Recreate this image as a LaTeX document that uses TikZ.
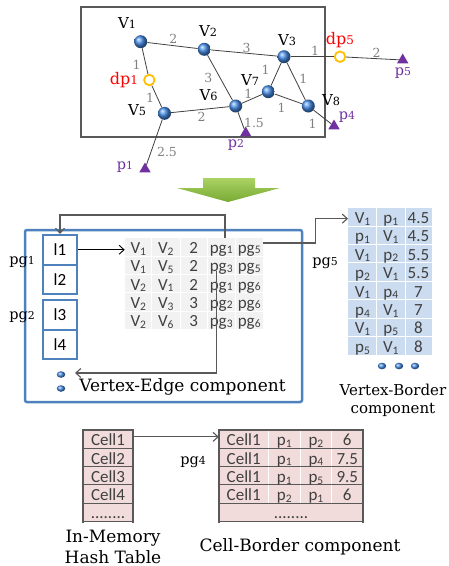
\documentclass[tikz,border=0pt]{standalone}
\usepackage{fontspec}
\newfontfamily\carlito{Carlito}
\newfontfamily\dser{DejaVu Serif}
\usetikzlibrary{arrows.meta,shapes.geometric}
\definecolor{nodeblue}{RGB}{70,140,230}
\definecolor{boxblue}{RGB}{79,129,189}
\definecolor{dporange}{RGB}{255,192,0}
\definecolor{ppurple}{RGB}{112,48,160}
\definecolor{egray}{RGB}{128,128,128}
\definecolor{vegray}{RGB}{242,242,242}
\definecolor{vbblue}{RGB}{203,219,240}
\definecolor{cbpink}{RGB}{242,220,219}
\definecolor{linegray}{RGB}{89,89,89}
\definecolor{txt}{RGB}{64,64,64}
\definecolor{arrgreenA}{RGB}{170,210,100}
\definecolor{arrgreenB}{RGB}{120,170,50}
\newcommand\osn[1]{\scalebox{0.75}{#1}}
\newcommand\sub[1]{\raisebox{-1.8pt}{\fontsize{11.5}{11.5}\selectfont #1}}
\newcommand\gsub[1]{\raisebox{-0.3pt}{\fontsize{11.5}{11.5}\selectfont #1}}
\tikzset{
 vball/.style={circle,minimum size=13pt,inner sep=0pt,shading=ball,ball color=nodeblue},
 dpc/.style={circle,draw=dporange,line width=1.8pt,fill=white,minimum size=10.5pt,inner sep=0pt},
 ptri/.style={regular polygon,regular polygon sides=3,fill=ppurple,minimum size=13pt,inner sep=0pt},
 vlab/.style={font=\dser\fontsize{15}{15}\selectfont,inner sep=0pt},
 dplab/.style={font=\dser\fontsize{16}{16}\selectfont,inner sep=0pt,text=red},
 plab/.style={font=\dser\fontsize{14.5}{14.5}\selectfont,inner sep=0pt,text=ppurple},
 elab/.style={font=\dser\fontsize{12.5}{12.5}\selectfont,inner sep=0pt,text=egray},
 gedge/.style={draw=black!75,line width=0.8pt},
 conn/.style={draw=linegray,line width=1.1pt},
 openarrow/.style={-{Straight Barb[length=5pt,width=9pt]}},
 tcell/.style={font=\carlito\fontsize{17}{17}\selectfont,text=txt,inner sep=0pt,anchor=base},
 lbox/.style={draw=boxblue,line width=2pt,minimum width=34pt,minimum height=29.5pt,inner sep=0pt,font=\carlito\fontsize{17}{17}\selectfont},
 serlab/.style={font=\dser\fontsize{17}{17}\selectfont,inner sep=0pt},
 serlabs/.style={font=\dser\fontsize{15}{15}\selectfont,inner sep=0pt},
 pglab/.style={font=\dser\fontsize{14.5}{14.5}\selectfont,inner sep=0pt},
 bdot/.style={ellipse,minimum width=8.5pt,minimum height=6.5pt,inner sep=0pt,shading=ball,ball color=nodeblue},
}
\begin{document}
\begin{tikzpicture}[x=1pt,y=-1pt]
\useasboundingbox (0,0) rectangle (449,566);
% ---------- graph ----------
\draw[draw=linegray,line width=1.2pt] (81,7) rectangle (325,137);
\node[vball] (V1) at (140.7,41.7) {};
\node[vball] (V2) at (204.3,49.3) {};
\node[vball] (V3) at (284,56.7) {};
\node[vball] (V5) at (164.5,113.3) {};
\node[vball] (V6) at (235.7,106) {};
\node[vball] (V7) at (268.3,91.7) {};
\node[vball] (V8) at (308.3,106) {};
\node[dpc] (dp1) at (149.3,80) {};
\node[dpc] (dp5) at (340,56.7) {};
\node[ptri] (p1) at (145,169) {};
\node[ptri] (p2) at (245.7,133) {};
\node[ptri] (p4) at (334,126) {};
\node[ptri] (p5) at (402.7,60) {};
\draw[gedge] (V1) -- (V2);
\draw[gedge] (V2) -- (V3);
\draw[gedge] (V3) -- (dp5);
\draw[gedge] (dp5) -- (p5);
\draw[gedge] (V1) -- (dp1);
\draw[gedge] (dp1) -- (V5);
\draw[gedge] (V2) -- (V6);
\draw[gedge] (V5) -- (V6);
\draw[gedge] (V6) -- (V7);
\draw[gedge] (V7) -- (V3);
\draw[gedge] (V3) -- (V8);
\draw[gedge] (V7) -- (V8);
\draw[gedge] (V6) -- (p2);
\draw[gedge] (V8) -- (p4);
\draw[gedge] (V5) -- (p1);
\node[vlab] (lV1) at (127,23) {V\osn{1}};
\node[vlab] (lV2) at (208,31) {V\osn{2}};
\node[vlab] (lV3) at (287,40) {V\osn{3}};
\node[vlab] (lV5) at (137,110) {V\osn{5}};
\node[vlab] (lV6) at (208.5,95) {V\osn{6}};
\node[vlab] (lV7) at (250,80) {V\osn{7}};
\node[vlab] (lV8) at (331,100) {V\osn{8}};
\node[dplab] (ldp1) at (124,80) {dp\osn{1}};
\node[dplab] (ldp5) at (340,40) {dp\osn{5}};
\node[plab] (lp1) at (125,167) {p\osn{1}};
\node[plab] (lp2) at (236,145) {p\osn{2}};
\node[plab] (lp4) at (347,117) {p\osn{4}};
\node[plab] (lp5) at (403,73) {p\osn{5}};
\node[elab] (e1) at (173.3,39.3) {2};
\node[elab] (e2) at (246.7,48.3) {3};
\node[elab] (e3) at (315,51) {1};
\node[elab] (e4) at (376.7,52.7) {2};
\node[elab] (e5) at (136.7,65) {1};
\node[elab] (e6) at (150,97.7) {1};
\node[elab] (e7) at (208.3,78.3) {3};
\node[elab] (e8) at (201.7,116.7) {2};
\node[elab] (e9) at (248.3,94) {1};
\node[elab] (e10) at (265.7,70) {1};
\node[elab] (e11) at (303.3,79) {1};
\node[elab] (e12) at (281.7,107.7) {1};
\node[elab] (e13) at (254,123.3) {1.5};
\node[elab] (e14) at (312.7,124) {1};
\node[elab] (e15) at (167,151.7) {2.5};
% ---------- green arrow ----------
\shade[top color=arrgreenA,bottom color=arrgreenB] (203,178) -- (255,178) -- (255,188) -- (280,188) -- (228,202) -- (177,188) -- (203,188) -- cycle;
% ---------- Vertex-Edge component ----------
\draw[boxblue,line width=2.5pt,rounded corners=2pt] (25,230) rectangle (302,402);
\node[lbox] (l1) at (60,249.75) {l1};
\node[lbox] (l2) at (60,279.25) {l2};
\node[lbox] (l3) at (60,314.75) {l3};
\node[lbox] (l4) at (60,344.25) {l4};
\node[pglab] (pg1) at (22,262) {pg\osn{1}};
\node[pglab] (pg2) at (22,317) {pg\osn{2}};
\fill[vegray] (125,237.7) rectangle (263.3,329.4);
\foreach \x in {151.7,180,207.3,235} \draw[white,line width=1pt] (\x,237.7) -- (\x,329.4);
\foreach \y in {256,274.4,292.7,311.1} \draw[white,line width=1pt] (125,\y) -- (263.3,\y);
\foreach \r/\y/\a/\b/\c/\d/\e in {1/246.8/1/2/2/1/5, 2/265.2/1/5/2/3/5, 3/283.5/2/1/2/1/6, 4/301.9/2/3/3/2/6, 5/320.2/2/6/3/3/6}{
  \node[tcell,minimum width=26.7pt] (ve\r1) at (138.3,\y+6.5) {V\sub{\a}};
  \node[tcell] (ve\r2) at (165.8,\y+6.5) {V\sub{\b}};
  \node[tcell] (ve\r3) at (193.7,\y+6.5) {\c};
  \node[tcell] (ve\r4) at (221.2,\y+6.5) {pg\gsub{\d}};
  \node[tcell,minimum width=28.3pt] (ve\r5) at (249.2,\y+6.5) {pg\gsub{\e}};
}
\node[bdot] (d1) at (61,374.5) {};
\node[bdot] (d2) at (61,388.5) {};
\node[serlab] (vetitle) at (182.5,387) {Vertex-Edge component};
% connectors of Vertex-Edge component
\draw[draw=black,line width=0.9pt,openarrow] (l1.east) -- (l1.east -| ve11.west);
\coordinate (c1) at (225,237.7);
\draw[conn,openarrow] (c1) -- ++(0,-22.7) -| (l1.north);
\coordinate (c3) at (216.7,271);
\coordinate (c4) at (75,373);
\draw[conn,openarrow] (c3) |- (c4);
% ---------- Vertex-Border component ----------
\fill[vbblue] (348.3,207.5) rectangle (432,355.1);
\foreach \x in {376.7,405} \draw[white,line width=1pt] (\x,207.5) -- (\x,355.1);
\foreach \y in {226,244.4,262.9,281.3,299.8,318.2,336.7} \draw[white,line width=1pt] (348.3,\y) -- (432,\y);
\foreach \r/\y/\a/\b/\c in {1/216.7/V\sub{1}/p\sub{1}/4.5, 2/235.2/p\sub{1}/V\sub{1}/4.5, 3/253.6/V\sub{1}/p\sub{2}/5.5, 4/272.1/p\sub{2}/V\sub{1}/5.5, 5/290.5/V\sub{1}/p\sub{4}/7, 6/309/p\sub{4}/V\sub{1}/7, 7/327.4/V\sub{1}/p\sub{5}/8, 8/345.9/p\sub{5}/V\sub{1}/8}{
  \node[tcell,minimum width=28.4pt] (vb\r1) at (362.5,\y+6.5) {\a};
  \node[tcell] (vb\r2) at (390.8,\y+6.5) {\b};
  \node[tcell] (vb\r3) at (418.5,\y+6.5) {\c};
}
\coordinate (c2) at (263.3,243);
\draw[conn,openarrow] (c2) -- ++(52,0) |- (vb11.west);
\node[pglab] (pg5) at (325,263) {pg\osn{5}};
\node[bdot] (d3) at (382,366) {};
\node[bdot] (d4) at (399,366) {};
\node[bdot] (d5) at (415,366) {};
\node[serlabs] (vbt1) at (393,390) {Vertex-Border};
\node[serlabs] (vbt2) at (393,410) {component};
% ---------- hash table ----------
\fill[cbpink] (83,430) rectangle (133,521.5);
\fill[cbpink] (219,430) rectangle (363,521.5);
\foreach \x in {268.3,300,331.7} \draw[white,line width=1pt] (\x,430) -- (\x,503.2);
\foreach \y in {430,448.3,466.6,484.9,503.2,521.5} {
  \draw[linegray,line width=1.1pt] (83,\y) -- (133,\y);
  \draw[linegray,line width=1.1pt] (219,\y) -- (363,\y);
}
\foreach \x in {83,133,219,363} \draw[linegray,line width=1.1pt] (\x,429) -- (\x,522.5);
\foreach \r/\y in {1/439.2,2/457.5,3/475.8,4/494.1}
  \node[tcell,minimum width=50pt] (h\r) at (108,\y+6.5) {Cell\r};
\node[tcell] (h5) at (108,512.3+6.5) {........};
\foreach \r/\y/\a/\b/\c in {1/439.2/1/2/6, 2/457.5/1/4/7.5, 3/475.8/1/5/9.5, 4/494.1/2/1/6}{
  \node[tcell,minimum width=49.3pt] (cb\r1) at (243.7,\y+6.5) {Cell1};
  \node[tcell] (cb\r2) at (284.2,\y+6.5) {p\sub{\a}};
  \node[tcell] (cb\r3) at (315.9,\y+6.5) {p\sub{\b}};
  \node[tcell] (cb\r4) at (347.3,\y+6.5) {\c};
}
\node[tcell] (cb5) at (291,512.3+6.5) {........};
\draw[conn,openarrow] ([yshift=3pt]h1.east) -- ([yshift=3pt]h1.east -| cb11.west);
\node[pglab] (pg4) at (193,462) {pg\osn{4}};
\node[serlab] (ht1) at (113,538) {In-Memory};
\node[serlab] (ht2) at (113,557) {Hash Table};
\node[serlab] (cbt) at (300,547) {Cell-Border component};
\end{tikzpicture}
\end{document}
